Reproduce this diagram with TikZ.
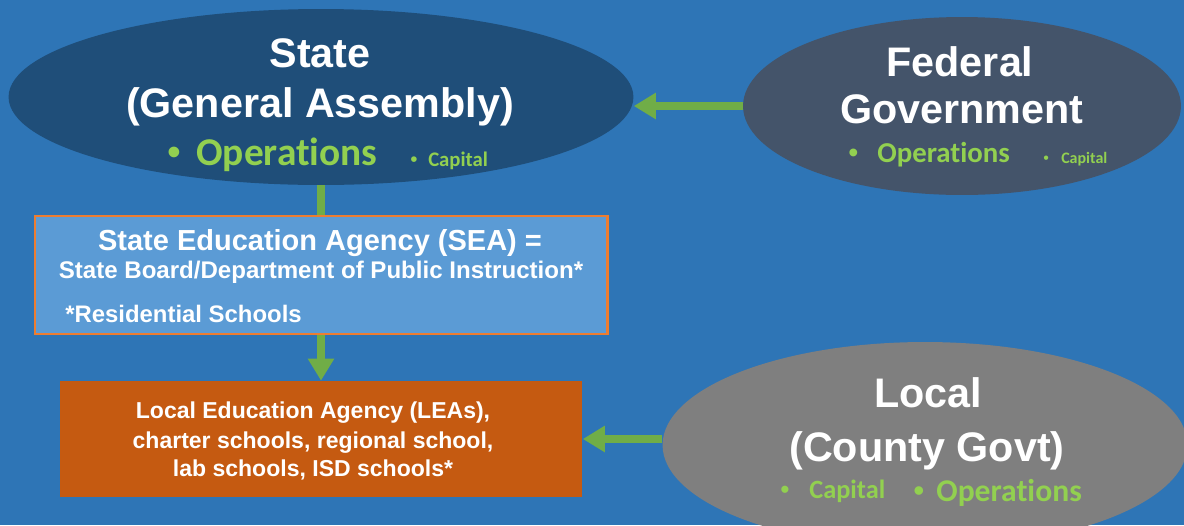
\documentclass[tikz,border=0pt]{standalone}
\usepackage{fontspec}
\setmainfont{Liberation Sans}
\newfontfamily\carlito[Ligatures=NoCommon]{Carlito}
\usetikzlibrary{shapes.geometric,arrows.meta}

\definecolor{slidebg}{HTML}{2E75B6}
\definecolor{statefill}{HTML}{1F4E79}
\definecolor{fedfill}{HTML}{44546A}
\definecolor{localfill}{HTML}{7F7F7F}
\definecolor{seafill}{HTML}{5B9BD5}
\definecolor{seaedge}{HTML}{ED7D31}
\definecolor{leafill}{HTML}{C55A11}
\definecolor{arrowgreen}{HTML}{70AD47}
\definecolor{itemgreen}{HTML}{92D050}

% bullet item: size, gap, word
\newcommand{\fundtag}[3]{\fontsize{#1}{#1}\selectfont\makebox[#2][l]{\rmfamily\mdseries •}#3}

\tikzset{
  govt/.style={ellipse, inner sep=0pt},
  agency/.style={rectangle, inner sep=0pt},
  title/.style={anchor=base, inner sep=0pt, text=white,
    font=\bfseries\fontsize{23.5}{28}\selectfont},
  boxtext/.style={anchor=base, inner sep=0pt, text=white, font=\bfseries},
  fund/.style={anchor=base west, inner sep=0pt, text=itemgreen,
    font=\carlito\bfseries},
  flow/.style={draw=arrowgreen, line width=0.16cm},
  flowarrow/.style={flow, -{Triangle[width=0.5cm,length=0.44cm]}}
}

\begin{document}
\begin{tikzpicture}[x=0.02cm,y=-0.02cm]
  \useasboundingbox (0,0) rectangle (1184,525);
  \clip (0,0) rectangle (1184,525);
  \fill[slidebg] (0,0) rectangle (1184,525);

  % shapes
  \node[govt, fill=statefill, minimum width=12.5cm, minimum height=3.52cm] (state) at (321,97) {};
  \node[govt, fill=fedfill, minimum width=8.76cm, minimum height=3.56cm] (fed) at (962,106) {};
  \node[govt, fill=localfill, minimum width=10.5cm, minimum height=4.12cm] (local) at (925,445) {};
  \node[agency, fill=seafill, draw=seaedge, line width=1.2pt, minimum width=11.46cm, minimum height=2.36cm] (sea) at (321,275) {};
  \node[agency, fill=leafill, minimum width=10.46cm, minimum height=2.32cm] (lea) at (321,439) {};

  % titles
  \node[title] (statet1) at (320,67) {State};
  \node[title] (statet2) at (320,117) {(General Assembly)};
  \node[title] (fedt1) at (960,76) {Federal};
  \node[title] (fedt2) at (962,123) {Government};
  \node[title] (localt1) at (928,407) {Local};
  \node[title] (localt2) at (927,461) {(County Govt)};

  % funding
  \node[fund] (stateops) at (167,165) {\fundtag{22.4}{16.5pt}{Operations}};
  \node[fund] (statecap) at (410,166) {\fundtag{11.8}{10.2pt}{Capital}};
  \node[fund] (fedops) at (848,162) {\fundtag{16.4}{16.5pt}{Operations}};
  \node[fund] (fedcap) at (1043,163) {\fundtag{9.1}{10.2pt}{Capital}};
  \node[fund] (localcap) at (780,498) {\fundtag{15}{16.5pt}{Capital}};
  \node[fund] (localops) at (913,501) {\fundtag{18}{13.1pt}{Operations}};

  % agency texts
  \node[boxtext, font=\bfseries\fontsize{16.5}{19}\selectfont] (sea1) at (320,250) {State Education Agency (SEA) =};
  \node[boxtext, font=\bfseries\fontsize{13.7}{16}\selectfont] (sea2) at (321,278) {State Board/Department of Public Instruction*};
  \node[boxtext, anchor=base west, font=\bfseries\fontsize{13.6}{16}\selectfont] (sea3) at (65,322) {*Residential Schools};
  \node[boxtext, font=\bfseries\fontsize{13.1}{16}\selectfont] (lea1) at (313,418) {Local Education Agency (LEAs),};
  \node[boxtext, font=\bfseries\fontsize{13.1}{16}\selectfont] (lea2) at (313,448) {charter schools, regional school,};
  \node[boxtext, font=\bfseries\fontsize{13.1}{16}\selectfont] (lea3) at (313,476) {lab schools, ISD schools*};

  % connectors
  \draw[flow] (state) -- (sea);
  \draw[flowarrow] (sea) -- (lea);
  \draw[flowarrow] (fed.west) -- (state.east |- fed.west);
  \draw[flowarrow] (local.west |- lea.east) -- (lea.east);
\end{tikzpicture}
\end{document}
